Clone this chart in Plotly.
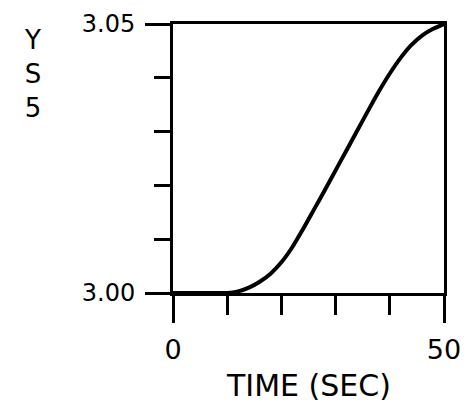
import plotly.graph_objects as go

# Data
time_sec = [0, 2, 4, 6, 8, 10, 12, 14, 16, 18, 20, 22, 24, 26, 28, 30,
            32, 34, 36, 38, 40, 42, 44, 46, 48, 50]
ys5 = [3.0000, 3.0000, 3.0000, 3.0000, 3.0000, 3.0000, 3.0003, 3.0010,
       3.0021, 3.0036, 3.0057, 3.0085, 3.0119, 3.0155, 3.0191, 3.0228,
       3.0265, 3.0302, 3.0339, 3.0375, 3.0408, 3.0437, 3.0461, 3.0479,
       3.0491, 3.0500]

x_minor_ticks = [10, 20, 30, 40]
x_major_ticks = [0, 50]
x_major_labels = ["0", "50"]
y_minor_ticks = [3.01, 3.02, 3.03, 3.04]
y_major_ticks = [3.00, 3.05]
y_major_labels = ["3.00", "3.05"]

FONT = "DejaVu Sans"
X_RANGE = [0, 50]
Y_RANGE = [3.00, 3.05]

fig = go.Figure()
fig.add_trace(go.Scatter(
    x=time_sec, y=ys5, mode="lines",
    line=dict(color="black", width=4, shape="spline", smoothing=0.8),
    showlegend=False, hoverinfo="skip",
))
# invisible trace to activate overlay axes
fig.add_trace(go.Scatter(x=[None], y=[None], xaxis="x2", yaxis="y2",
                         showlegend=False, hoverinfo="skip"))

# page body has an 8px margin, so the figure is shrunk and shifted accordingly
fig.update_layout(
    width=465, height=396,
    margin=dict(l=165, r=29, t=16, b=111, autoexpand=False),
    paper_bgcolor="white", plot_bgcolor="white",
    font=dict(family=FONT, color="black"),
    xaxis=dict(
        range=X_RANGE, showgrid=False, zeroline=False,
        showline=True, linecolor="black", linewidth=3, mirror=True,
        tickmode="array", tickvals=x_minor_ticks, ticktext=["" for _ in x_minor_ticks],
        ticks="outside", ticklen=19, tickwidth=3, tickcolor="black",
    ),
    xaxis2=dict(
        range=X_RANGE, overlaying="x", anchor="y", side="bottom",
        showgrid=False, zeroline=False, showline=False,
        tickmode="array", tickvals=x_major_ticks, ticktext=x_major_labels,
        ticks="outside", ticklen=29, tickwidth=3, tickcolor="black",
        tickfont=dict(size=27, family=FONT), ticklabelstandoff=4,
    ),
    yaxis=dict(
        range=Y_RANGE, showgrid=False, zeroline=False,
        showline=True, linecolor="black", linewidth=3, mirror=True,
        tickmode="array", tickvals=y_minor_ticks, ticktext=["" for _ in y_minor_ticks],
        ticks="outside", ticklen=16, tickwidth=3, tickcolor="black",
    ),
    yaxis2=dict(
        range=Y_RANGE, overlaying="y", anchor="x", side="left",
        showgrid=False, zeroline=False, showline=False,
        tickmode="array", tickvals=y_major_ticks, ticktext=y_major_labels,
        ticks="outside", ticklen=27, tickwidth=3, tickcolor="black",
        tickfont=dict(size=24, family=FONT), ticklabelstandoff=5,
    ),
)

# x-axis title
fig.add_annotation(
    text="TIME (SEC)", xref="paper", yref="paper",
    x=0.5, y=-0.345, xanchor="center", yanchor="middle",
    showarrow=False, borderpad=0,
    font=dict(size=30, family=FONT, color="black"),
)

# stacked y-axis title
fig.add_annotation(
    text="Y<br>S<br>5", xref="paper", yref="paper",
    x=-0.517, y=1.005, xanchor="center", yanchor="top",
    showarrow=False, align="center",
    font=dict(size=26, family=FONT, color="black"),
)

fig.write_html("out.html")
